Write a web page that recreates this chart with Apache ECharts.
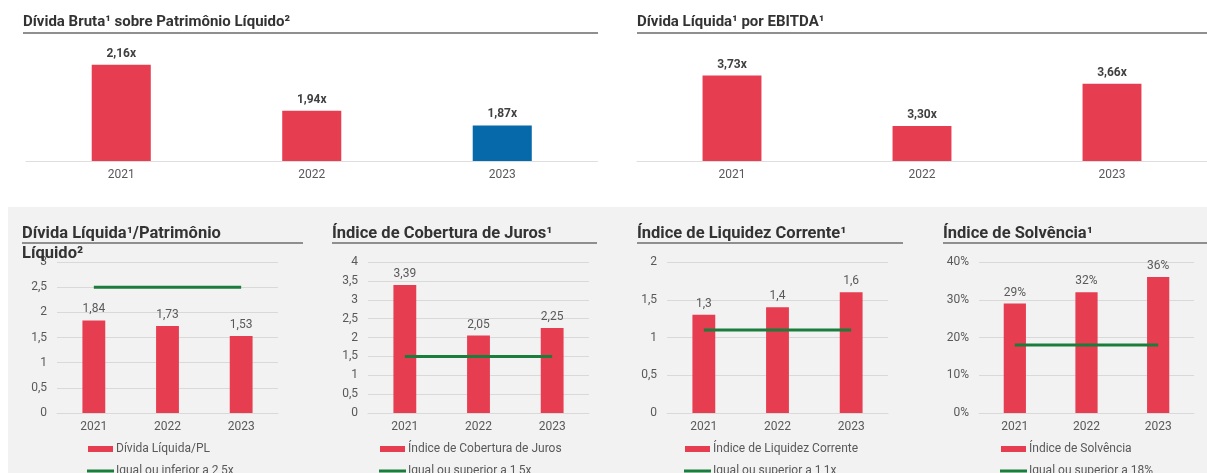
<!DOCTYPE html>
<html>
<head>
<meta charset="utf-8">
<style>
  html, body { margin: 0; padding: 0; background: #ffffff; }
  #chart { width: 1207px; height: 473px; }
</style>
<script src="https://cdn.jsdelivr.net/npm/echarts@6/dist/echarts.min.js"></script>
</head>
<body>
<div id="chart"></div>
<script>
// Indicadores de endividamento e solvência, 2021–2023
const years = ['2021', '2022', '2023'];

const grossDebtToEquity = [2.16, 1.94, 1.87];      // Dívida Bruta / PL
const netDebtToEbitda = [3.73, 3.30, 3.66];        // Dívida Líquida / EBITDA

const netDebtToEquity = [1.84, 1.73, 1.53];        // Dívida Líquida / PL
const netDebtToEquityLimit = [2.5, 2.5, 2.5];

const interestCoverage = [3.39, 2.05, 2.25];       // Índice de Cobertura de Juros
const interestCoverageLimit = [1.5, 1.5, 1.5];

const currentLiquidity = [1.3, 1.4, 1.6];          // Índice de Liquidez Corrente
const currentLiquidityLimit = [1.1, 1.1, 1.1];

const solvency = [0.29, 0.32, 0.36];               // Índice de Solvência
const solvencyLimit = [0.18, 0.18, 0.18];

const RED = '#e63d51';
const BLUE = '#0669a9';
const GREEN = '#1b7d3b';
const FONT = 'Roboto';

const comma = v => String(v).replace('.', ',');
const pct = v => Math.round(v * 100) + '%';

const chart = echarts.init(document.getElementById('chart'), null, { renderer: 'canvas' });

const grids = [
  { left: 26, top: 56.5, width: 571.5, height: 104.5 },
  { left: 637, top: 67.4, width: 571.5, height: 93.6 },
  { left: 57, top: 262, width: 221, height: 151 },
  { left: 368, top: 262, width: 221, height: 151 },
  { left: 667, top: 262, width: 221, height: 151 },
  { left: 979, top: 262, width: 215, height: 151 }
];

const catLabel = { color: '#595959', fontSize: 12, fontFamily: FONT, margin: 8 };

const xAxes = grids.map((g, i) => ({
  type: 'category',
  gridIndex: i,
  data: years,
  axisTick: { show: false },
  axisLine: { show: true, lineStyle: { color: i < 2 ? '#dedede' : '#d9d9d9', width: 1 } },
  axisLabel: catLabel
}));

const yTop = [
  { min: 1.7, max: 2.2 },
  { min: 3.0, max: 3.8 }
];
const yBottom = [
  { max: 3, interval: 0.5, fmt: comma },
  { max: 4, interval: 0.5, fmt: comma },
  { max: 2, interval: 0.5, fmt: comma },
  { max: 0.4, interval: 0.1, fmt: pct }
];

const yAxes = [
  ...yTop.map((y, i) => ({ type: 'value', gridIndex: i, show: false, min: y.min, max: y.max })),
  ...yBottom.map((y, i) => ({
    type: 'value',
    gridIndex: i + 2,
    min: 0,
    max: y.max,
    interval: y.interval,
    axisLine: { show: false },
    axisTick: { show: false },
    splitLine: { lineStyle: { color: '#d9d9d9', width: 1 } },
    axisLabel: { color: '#595959', fontSize: 12, fontFamily: FONT, margin: 10, formatter: y.fmt }
  }))
];

const topLabel = {
  show: true, position: 'top', distance: 5,
  color: '#404040', fontSize: 12, fontWeight: 'bold', fontFamily: FONT,
  formatter: p => p.value.toFixed(2).replace('.', ',') + 'x'
};

function barSeries(name, data, idx, fmt) {
  return {
    name, type: 'bar', xAxisIndex: idx, yAxisIndex: idx, data,
    barWidth: '31%',
    itemStyle: { color: RED },
    label: {
      show: true, position: 'top', distance: 5,
      color: '#595959', fontSize: 12, fontFamily: FONT,
      formatter: p => fmt(p.value)
    },
    silent: true, animation: false
  };
}
function limitSeries(name, data, idx) {
  return {
    name, type: 'line', xAxisIndex: idx, yAxisIndex: idx, data,
    symbol: 'none', showSymbol: false,
    lineStyle: { color: GREEN, width: 3 },
    itemStyle: { color: GREEN },
    z: 3, silent: true, animation: false
  };
}

const series = [
  {
    name: 'Dívida Bruta / PL', type: 'bar', xAxisIndex: 0, yAxisIndex: 0,
    data: grossDebtToEquity, barWidth: '31%',
    itemStyle: { color: p => (p.dataIndex === years.length - 1 ? BLUE : RED) },
    label: topLabel, silent: true, animation: false
  },
  {
    name: 'Dívida Líquida / EBITDA', type: 'bar', xAxisIndex: 1, yAxisIndex: 1,
    data: netDebtToEbitda, barWidth: '31%',
    itemStyle: { color: RED },
    label: topLabel, silent: true, animation: false
  },
  barSeries('Dívida Líquida/PL', netDebtToEquity, 2, comma),
  limitSeries('Igual ou inferior a 2,5x', netDebtToEquityLimit, 2),
  barSeries('Índice de Cobertura de Juros', interestCoverage, 3, comma),
  limitSeries('Igual ou superior a 1,5x', interestCoverageLimit, 3),
  barSeries('Índice de Liquidez Corrente', currentLiquidity, 4, comma),
  limitSeries('Igual ou superior a 1,1x', currentLiquidityLimit, 4),
  barSeries('Índice de Solvência', solvency, 5, pct),
  limitSeries('Igual ou superior a 18%', solvencyLimit, 5)
];

// legend swatches: a 6px block for bars, a 3px rule for the limit lines
const swatchBar = 'path://M0,0M27,14M1,4H26V10H1Z';
const swatchLine = 'path://M0,0M27,14M0,5.5H27V8.5H0Z';

const legendLefts = [87, 379, 684, 1000];
const legendPairs = [
  ['Dívida Líquida/PL', 'Igual ou inferior a 2,5x'],
  ['Índice de Cobertura de Juros', 'Igual ou superior a 1,5x'],
  ['Índice de Liquidez Corrente', 'Igual ou superior a 1,1x'],
  ['Índice de Solvência', 'Igual ou superior a 18%']
];
const legends = [];
legendPairs.forEach((pair, i) => {
  [[pair[0], swatchBar, 442], [pair[1], swatchLine, 464]].forEach(([name, icon, top]) => {
    legends.push({
      left: legendLefts[i],
      top,
      padding: 0,
      itemWidth: 27,
      itemHeight: 14,
      selectedMode: false,
      textStyle: { color: '#595959', fontSize: 12, fontFamily: FONT, padding: [0, 0, 0, -3] },
      data: [{ name, icon }]
    });
  });
});

const titleStyle = { color: '#333333', fontWeight: 'bold', fontFamily: FONT };
const titles = [
  { text: 'Dívida Bruta¹ sobre Patrimônio Líquido²', left: 23, top: 15, size: 15 },
  { text: 'Dívida Líquida¹ por EBITDA¹', left: 637, top: 15, size: 15 },
  { text: 'Dívida Líquida¹/Patrimônio\nLíquido²', left: 22, top: 224.5, size: 16.5, lineHeight: 19.5 },
  { text: 'Índice de Cobertura de Juros¹', left: 332, top: 225, size: 16.5 },
  { text: 'Índice de Liquidez Corrente¹', left: 637, top: 225, size: 16.5 },
  { text: 'Índice de Solvência¹', left: 943, top: 225, size: 16.5 }
].map(t => ({
  text: t.text, left: t.left, top: t.top, padding: 0,
  textStyle: Object.assign({ fontSize: t.size }, titleStyle, t.lineHeight ? { lineHeight: t.lineHeight } : {})
}));

// title rules
const rules = [
  [23, 598, 33], [637, 1207, 33],
  [22, 303, 243], [332, 597, 243], [637, 903, 243], [943, 1207, 243]
].map(r => ({
  type: 'line', silent: true, z: 5,
  shape: { x1: r[0], y1: r[2], x2: r[1], y2: r[2] },
  style: { stroke: '#8f8f8f', lineWidth: 2 }
}));

chart.setOption({
  animation: false,
  textStyle: { fontFamily: FONT },
  title: titles,
  legend: legends,
  grid: grids,
  xAxis: xAxes,
  yAxis: yAxes,
  series,
  graphic: {
    elements: [
      {
        type: 'rect', silent: true, z: -1,
        shape: { x: 8, y: 207, width: 1205, height: 270 },
        style: { fill: '#f2f2f2' }
      },
      ...rules
    ]
  }
});
</script>
</body>
</html>
